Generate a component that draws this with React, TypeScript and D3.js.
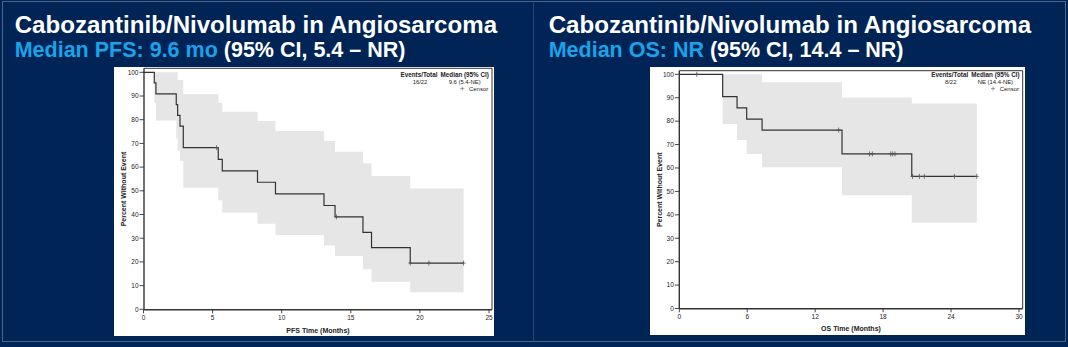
import React from 'react';
import * as d3 from 'd3';

// ---------- text ----------
const titleMain = 'Cabozantinib/Nivolumab in Angiosarcoma';
const pfsHighlight = 'Median PFS: 9.6 mo';
const pfsRest = ' (95% CI, 5.4 – NR)';
const osHighlight = 'Median OS: NR';
const osRest = ' (95% CI, 14.4 – NR)';

// ---------- PFS data (months, percent) ----------
const pfsTimes = [0, 0.78, 0.9, 2.37, 2.47, 2.64, 2.88, 5.41, 5.7, 8.25, 9.55, 13.06, 13.86, 15.88, 16.5, 19.3, 23.16];
const pfsSurv = [100, 95.5, 90.9, 86.4, 81.8, 77.3, 68.2, 63.3, 58.4, 53.6, 48.7, 43.8, 39.0, 32.5, 26.0, 19.5, 19.5];
const pfsLower = [100, 87.2, 79.7, 72.0, 67.0, 62.7, 51.3, 46.0, 40.8, 36.1, 31.4, 26.9, 22.5, 16.9, 11.6, 7.2, 7.2];
const pfsUpper = [100, 100, 100, 100, 96.8, 96.8, 90.7, 87.2, 83.4, 79.5, 75.2, 71.0, 66.5, 61.6, 56.2, 51.0, 51.0];
const pfsCensors = [5.29, 13.96, 19.3, 20.65, 23.16];
const pfsXTicks = [0, 5, 10, 15, 20, 25];

// ---------- OS data ----------
const osTimes = [0, 3.83, 5.1, 5.95, 7.31, 14.37, 20.53, 26.27];
const osSurv = [100, 90.5, 85.7, 80.9, 76.2, 66.0, 56.4, 56.4];
const osLower = [100, 78.8, 72.0, 66.0, 60.3, 48.4, 36.6, 36.6];
const osUpper = [100, 100, 100, 100, 96.6, 90.1, 87.5, 87.5];
const osCensors = [1.54, 14.07, 16.8, 17.05, 18.67, 18.85, 19.05, 20.6, 21.2, 21.64, 24.3, 26.27];
const osXTicks = [0, 6, 12, 18, 24, 30];

const yTicks = [0, 10, 20, 30, 40, 50, 60, 70, 80, 90, 100];

const NAVY = '#012457';
const BLUE = '#1aa3e8';
const FONT = '"Liberation Sans", Arial, Helvetica, sans-serif';

type Layout = {
  boxX: number; boxY: number; boxW: number; boxH: number;
  x0: number; x1: number; xMax: number; y100: number; y0: number;
  frameL: number; frameR: number; frameT: number; frameB: number;
  yTitleX: number; xTitleY: number; titleX: number; legTop: number;
};

function KMPanel(props: {
  L: Layout; times: number[]; surv: number[]; lower: number[]; upper: number[];
  censors: number[]; xTicks: number[]; xTitle: string; events: string; median: string;
  highlight: string; rest: string;
}) {
  const { L, times, surv, lower, upper, censors, xTicks, xTitle, events, median, highlight, rest } = props;
  const x = d3.scaleLinear().domain([0, L.xMax]).range([L.x0, L.x1]);
  const y = d3.scaleLinear().domain([0, 100]).range([L.y0, L.y100]);
  const pts = times.map((t, i) => ({ t, s: surv[i], lo: lower[i], hi: upper[i] }));
  const line = d3.line<any>().x(d => x(d.t)).y(d => y(d.s)).curve(d3.curveStepAfter);
  const area = d3.area<any>().x(d => x(d.t)).y0(d => y(d.lo)).y1(d => y(d.hi)).curve(d3.curveStepAfter);
  const survAt = (t: number) => surv[Math.max(0, d3.bisectRight(times, t) - 1)];
  const axisCol = '#333';
  const tickFont = 6.5;
  const evX = L.frameR - 73;
  const medX = L.frameR - 27.3;
  const legR = L.frameR - 3.7;
  const legTop = L.legTop;
  return (
    <g>
      <text x={L.titleX} y={33.3} fill="#fff" fontFamily={FONT} fontWeight="bold" fontSize={24.1}>{titleMain}</text>
      <text x={L.titleX} y={56.7} fontFamily={FONT} fontWeight="bold" fontSize={21.5}>
        <tspan fill={BLUE}>{highlight}</tspan>
        <tspan fill="#fff">{rest}</tspan>
      </text>
      <rect x={L.boxX} y={L.boxY} width={L.boxW} height={L.boxH} fill="#fff" />
      <path d={area(pts.slice(1)) || ''} fill="#e6e6e6" stroke="none" />
      <path d={line(pts) || ''} fill="none" stroke="#333" strokeWidth={1.2} />
      {censors.map((c, i) => (
        <path key={i} d={`M${x(c)},${y(survAt(c)) - 2.5}V${y(survAt(c)) + 2.5}M${x(c) - 2},${y(survAt(c))}H${x(c) + 2}`} stroke="#555" strokeWidth={0.8} fill="none" />
      ))}
      {/* frame */}
      <line x1={L.frameL} x2={L.frameR} y1={L.frameT} y2={L.frameT} stroke={axisCol} strokeWidth={1} />
      <line x1={L.frameR} x2={L.frameR} y1={L.frameT} y2={L.frameB} stroke={axisCol} strokeWidth={1} />
      <line x1={L.frameL} x2={L.frameL} y1={L.frameT} y2={L.frameB} stroke={axisCol} strokeWidth={1.4} />
      <line x1={L.frameL} x2={L.frameR} y1={L.frameB} y2={L.frameB} stroke={axisCol} strokeWidth={1.4} />
      {yTicks.map(v => (
        <g key={v}>
          <line x1={L.frameL - 4.5} x2={L.frameL} y1={y(v)} y2={y(v)} stroke={axisCol} strokeWidth={0.9} />
          <text x={L.frameL - 5.5} y={y(v) + 2.3} textAnchor="end" fontFamily={FONT} fontSize={tickFont} fill="#222">{v}</text>
        </g>
      ))}
      {xTicks.map(v => (
        <g key={v}>
          <line x1={x(v)} x2={x(v)} y1={L.frameB} y2={L.frameB + 3.5} stroke={axisCol} strokeWidth={0.9} />
          <text x={x(v)} y={L.frameB + 10.5} textAnchor="middle" fontFamily={FONT} fontSize={tickFont} fill="#222">{v}</text>
        </g>
      ))}
      <text transform={`translate(${L.yTitleX},${(L.frameT + L.frameB) / 2}) rotate(-90)`} textAnchor="middle" dy="0.35em"
        fontFamily={FONT} fontWeight="bold" fontSize={7} fill="#222">Percent Without Event</text>
      <text x={(L.frameL + L.frameR) / 2} y={L.xTitleY} textAnchor="middle" fontFamily={FONT} fontWeight="bold" fontSize={7} fill="#222">{xTitle}</text>
      {/* legend */}
      <g fontFamily={FONT} fill="#222">
        <text x={evX} y={legTop + 9} textAnchor="middle" fontWeight="bold" fontSize={6.3}>Events/Total</text>
        <text x={medX} y={legTop + 9} textAnchor="middle" fontWeight="bold" fontSize={6.3}>Median (95% CI)</text>
        <text x={evX + 1} y={legTop + 15.5} textAnchor="middle" fontSize={5.9}>{events}</text>
        <text x={medX} y={legTop + 15.5} textAnchor="middle" fontSize={5.9}>{median}</text>
        <text x={legR} y={legTop + 22.5} textAnchor="end" fontSize={6}>Censor</text>
        <path d={`M${legR - 26},${legTop + 18.3}V${legTop + 22.3}M${legR - 28},${legTop + 20.3}H${legR - 24}`} stroke="#777" strokeWidth={0.7} />
      </g>
    </g>
  );
}

const leftLayout: Layout = {
  boxX: 114, boxY: 67, boxW: 380, boxH: 269,
  x0: 143.5, x1: 489, xMax: 25, y100: 72.3, y0: 309.3,
  frameL: 144, frameR: 492, frameT: 68.3, frameB: 309.8,
  yTitleX: 124, xTitleY: 333, titleX: 14.7, legTop: 68.3,
};
const rightLayout: Layout = {
  boxX: 650, boxY: 67, boxW: 375, boxH: 268,
  x0: 679.3, x1: 1019, xMax: 30, y100: 74.3, y0: 308.5,
  frameL: 679.3, frameR: 1022.7, frameT: 70.7, frameB: 308.8,
  yTitleX: 659.5, xTitleY: 331, titleX: 548.7, legTop: 68.3,
};

export default function App() {
  return (
    <svg width={1068} height={347} style={{ position: 'absolute', left: 0, top: 0, display: 'block' }}>
      <rect x={0} y={0} width={1068} height={347} fill={NAVY} />
      <rect x={2.5} y={1.5} width={1063} height={340} fill="none" stroke="#4b6488" strokeWidth={1} />
      <line x1={533.5} x2={533.5} y1={1.5} y2={341.5} stroke="#26446f" strokeWidth={1} />
      <KMPanel L={leftLayout} times={pfsTimes} surv={pfsSurv} lower={pfsLower} upper={pfsUpper}
        censors={pfsCensors} xTicks={pfsXTicks} xTitle="PFS Time (Months)" events="16/22" median="9.6 (5.4-NE)"
        highlight={pfsHighlight} rest={pfsRest} />
      <KMPanel L={rightLayout} times={osTimes} surv={osSurv} lower={osLower} upper={osUpper}
        censors={osCensors} xTicks={osXTicks} xTitle="OS Time (Months)" events="8/22" median="NE (14.4-NE)"
        highlight={osHighlight} rest={osRest} />
    </svg>
  );
}
